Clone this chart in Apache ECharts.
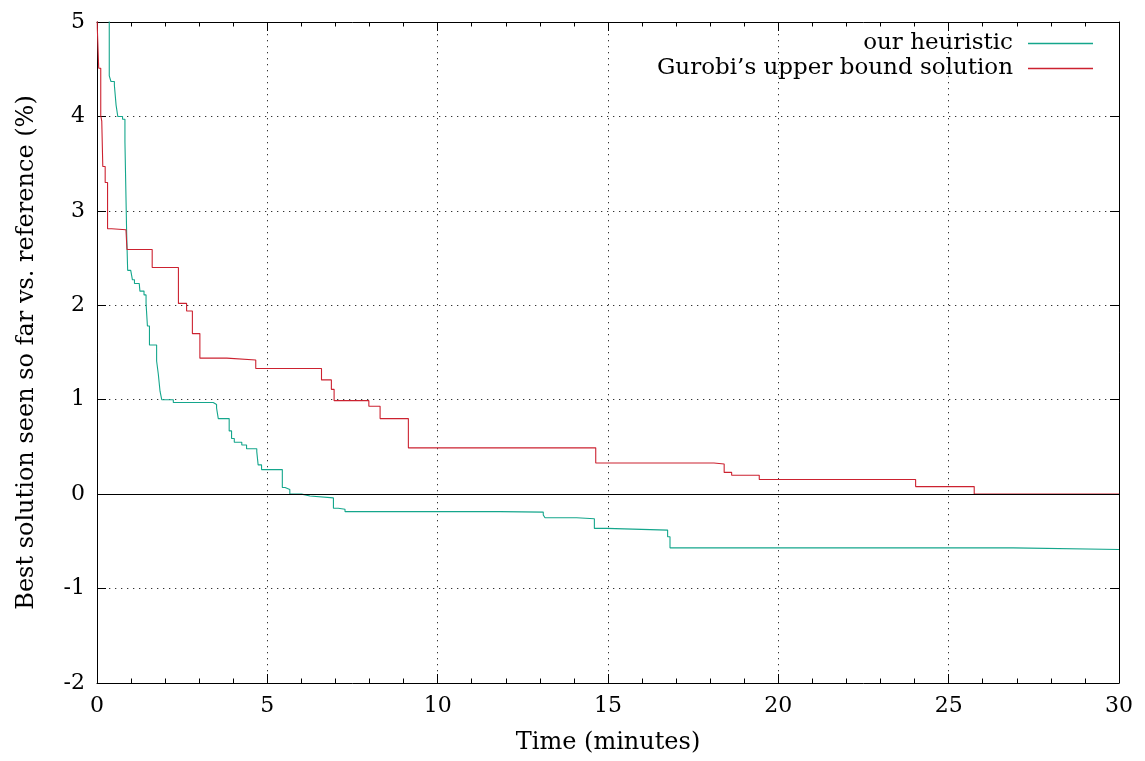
<!DOCTYPE html>
<html>
<head>
<meta charset="utf-8">
<script src="https://cdn.jsdelivr.net/npm/echarts@6/dist/echarts.min.js"></script>
<style>
html,body{margin:0;padding:0;background:#fff;}
#chart{width:1145px;height:761px;}
</style>
</head>
<body>
<div id="chart"></div>
<script>
// Series names
const seriesNames = ["our heuristic", "Gurobi\u2019s upper bound solution"];
// Times (minutes) at which the best-so-far value changes, and the new values (%)
const heuristicTime = [0, 0.36, 0.41, 0.51, 0.56, 0.61, 0.75, 0.82, 0.87, 0.90, 0.99, 1.04, 1.10, 1.24, 1.26, 1.38, 1.44, 1.48, 1.54, 1.75, 1.80, 1.85, 1.90, 2.24, 3.41, 3.51, 3.56, 3.88, 3.95, 4.03, 4.25, 4.39, 4.69, 4.73, 4.83, 5.44, 5.52, 5.66, 6.01, 6.25, 6.94, 7.08, 7.28, 11.83, 13.10, 13.15, 14.08, 14.60, 14.96, 16.75, 16.82, 26.89, 30];
const heuristicValue = [9, 4.43, 4.37, 4.33, 4.12, 4.00, 3.97, 3.73, 2.77, 2.37, 2.35, 2.27, 2.23, 2.22, 2.15, 2.11, 2.02, 1.78, 1.58, 1.41, 1.27, 1.09, 1.00, 0.97, 0.95, 0.91, 0.80, 0.67, 0.59, 0.55, 0.52, 0.48, 0.45, 0.31, 0.26, 0.07, 0.05, 0.00, -0.02, -0.04, -0.15, -0.16, -0.185, -0.19, -0.22, -0.25, -0.26, -0.363, -0.381, -0.452, -0.569, -0.586, -0.586];
const gurobiTime = [0, 0.01, 0.05, 0.11, 0.14, 0.17, 0.24, 0.31, 0.43, 0.85, 0.88, 1.62, 2.39, 2.63, 2.80, 3.02, 3.81, 4.66, 6.59, 6.88, 6.96, 7.98, 8.31, 9.14, 14.64, 18.11, 18.41, 18.63, 19.44, 24.03, 25.75, 30];
const gurobiValue = [5.3, 4.93, 4.51, 4.01, 3.95, 3.47, 3.30, 2.81, 2.80, 2.78, 2.59, 2.40, 2.02, 1.94, 1.70, 1.44, 1.42, 1.33, 1.21, 1.11, 0.99, 0.93, 0.80, 0.49, 0.33, 0.32, 0.23, 0.20, 0.155, 0.08, 0.0, 0.0];
// Axis settings
const xMin = 0, xMax = 30, xStep = 5;
const yMin = -2, yMax = 5, yStep = 1;
const xAxisTitle = "Time (minutes)";
const yAxisTitle = "Best solution seen so far vs. reference (%)";

const FONT = "'DejaVu Serif', 'Liberation Serif', serif";
const zip = (a, b) => a.map((v, i) => [v, b[i]]);

const chart = echarts.init(document.getElementById('chart'), null, {renderer: 'canvas'});
const axisLine = {show: true, onZero: false, lineStyle: {color: '#000', width: 1}};
const grid = {left: 97, right: 26, top: 22, bottom: 78};
chart.setOption({
  animation: false,
  backgroundColor: '#fff',
  textStyle: {fontFamily: FONT, color: '#000'},
  grid: grid,
  legend: {
    data: seriesNames,
    orient: 'vertical',
    right: 52, top: 31, padding: 0,
    align: 'right',
    icon: 'rect',
    itemWidth: 65, itemHeight: 1.3,
    itemGap: 0,
    textStyle: {fontFamily: FONT, fontSize: 23, lineHeight: 25, color: '#000', padding: [0, 10, 0, 0]}
  },
  xAxis: [{
    type: 'value', min: xMin, max: xMax, interval: xStep, position: 'bottom',
    name: xAxisTitle, nameLocation: 'middle', nameGap: 48,
    nameTextStyle: {fontFamily: FONT, fontSize: 24, color: '#000'},
    axisLine: axisLine,
    axisTick: {show: true, inside: true, length: 9, lineStyle: {color: '#000'}},
    minorTick: {show: true, splitNumber: 5, length: 4.5, lineStyle: {color: '#000'}},
    axisLabel: {fontFamily: FONT, fontSize: 22, color: '#000', margin: 12},
    splitLine: {show: true, lineStyle: {color: '#333', type: [1.3, 4.7], width: 1}}
  }, {
    type: 'value', min: xMin, max: xMax, interval: xStep, position: 'top',
    axisLine: axisLine,
    axisTick: {show: true, inside: true, length: 9, lineStyle: {color: '#000'}},
    minorTick: {show: true, splitNumber: 5, length: 4.5, lineStyle: {color: '#000'}},
    axisLabel: {show: false}, splitLine: {show: false}
  }],
  yAxis: [{
    type: 'value', min: yMin, max: yMax, interval: yStep, position: 'left',
    name: yAxisTitle, nameLocation: 'middle', nameGap: 58,
    nameTextStyle: {fontFamily: FONT, fontSize: 24, color: '#000'},
    axisLine: axisLine,
    axisTick: {show: true, inside: true, length: 9, lineStyle: {color: '#000'}},
    axisLabel: {fontFamily: FONT, fontSize: 22, color: '#000', margin: 12},
    splitLine: {show: true, lineStyle: {color: '#333', type: [1.3, 4.7], width: 1}}
  }, {
    type: 'value', min: yMin, max: yMax, interval: yStep, position: 'right',
    axisLine: axisLine,
    axisTick: {show: true, inside: true, length: 9, lineStyle: {color: '#000'}},
    axisLabel: {show: false}, splitLine: {show: false}
  }],
  series: [{
    name: seriesNames[0], type: 'line', step: 'end',
    data: zip(heuristicTime, heuristicValue),
    showSymbol: false, symbol: 'none', clip: true,
    color: '#14a68c',
    lineStyle: {color: '#14a68c', width: 1.1},
    markLine: {
      silent: true, symbol: 'none', label: {show: false},
      lineStyle: {color: '#000', type: 'solid', width: 1},
      data: [{yAxis: 0}]
    },
    z: 2
  }, {
    name: seriesNames[1], type: 'line', step: 'end',
    data: zip(gurobiTime, gurobiValue),
    showSymbol: false, symbol: 'none', clip: true,
    color: '#cc2230',
    lineStyle: {color: '#cc2230', width: 1.1},
    z: 3
  }]
});
</script>
</body>
</html>
